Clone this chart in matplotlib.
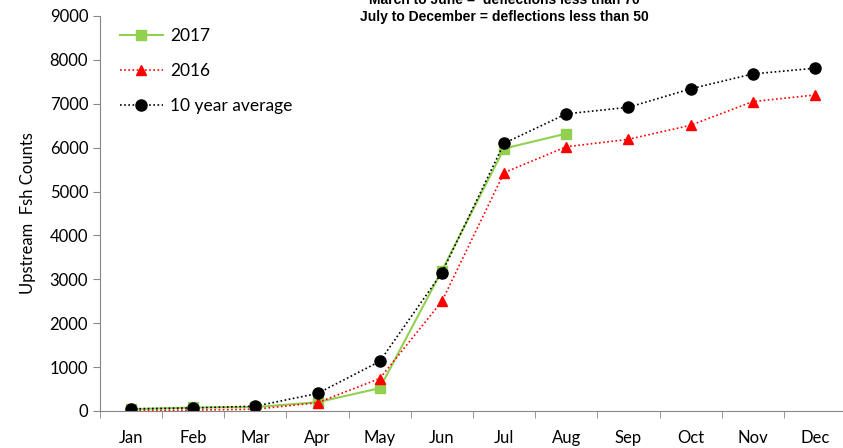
import matplotlib
matplotlib.use("Agg")
import matplotlib.pyplot as plt
import numpy as np

months = ["Jan", "Feb", "Mar", "Apr", "May", "Jun",
          "Jul", "Aug", "Sep", "Oct", "Nov", "Dec"]
counts_2017 = [40, 80, 90, 200, 520, 3200, 5980, 6320]
counts_2016 = [10, 20, 40, 190, 740, 2500, 5430, 6020, 6190, 6510, 7050, 7200]
ten_year_avg = [50, 70, 110, 400, 1130, 3150, 6100, 6770, 6920, 7340, 7680, 7810]

plt.rcParams["font.family"] = ["Lato", "DejaVu Sans"]

fig = plt.figure(figsize=(8.43, 4.48), dpi=100)
ax = fig.add_axes([0.1186, 0.0826, 0.885, 0.8817])

x = np.arange(len(months))
ax.plot(x[:len(counts_2017)], counts_2017, color="#92D050", lw=1.5,
        marker="s", ms=7, label="2017")
ax.plot(x, counts_2016, color="#FF0000", lw=1.2, ls=(0, (1, 1.5)),
        marker="^", ms=7.5, label="2016")
ax.plot(x, ten_year_avg, color="black", lw=1.2, ls=(0, (1, 1.5)),
        marker="o", ms=8, label="10 year average")

ax.set_xlim(-0.5, 11.5)
ax.set_ylim(0, 9000)
ax.set_yticks(range(0, 9001, 1000))
ax.set_xticks(x)
ax.set_xticklabels(months)
ax.set_xticks(np.arange(-0.5, 12, 1), minor=True)
ax.tick_params(axis="x", which="major", length=0, pad=14, labelsize=12)
ax.tick_params(axis="x", which="minor", length=5, color="#868686", direction="out")
ax.tick_params(axis="y", length=5, color="#868686", labelsize=12, direction="out")

for side in ["top", "right"]:
    ax.spines[side].set_visible(False)
ax.spines["left"].set_color("#868686")
ax.spines["bottom"].set_color("#868686")

ax.set_ylabel("Upstream  Fsh Counts", fontsize=12, labelpad=10)

# title sits partly above the figure edge, as in the original
fig.text(0.598, 1.0, "March to June =  deflections less than 70",
         ha="center", va="center", fontsize=10, fontweight="bold",
         family="Liberation Sans")
fig.text(0.598, 0.962, "July to December = deflections less than 50",
         ha="center", va="center", fontsize=10, fontweight="bold",
         family="Liberation Sans")

ax.legend(loc="upper left", bbox_to_anchor=(0.01, 1.0), frameon=False,
          fontsize=12.5, handlelength=2.5, handletextpad=0.4,
          labelspacing=1.1, borderaxespad=0.3)

fig.savefig("out.png", dpi=100)
